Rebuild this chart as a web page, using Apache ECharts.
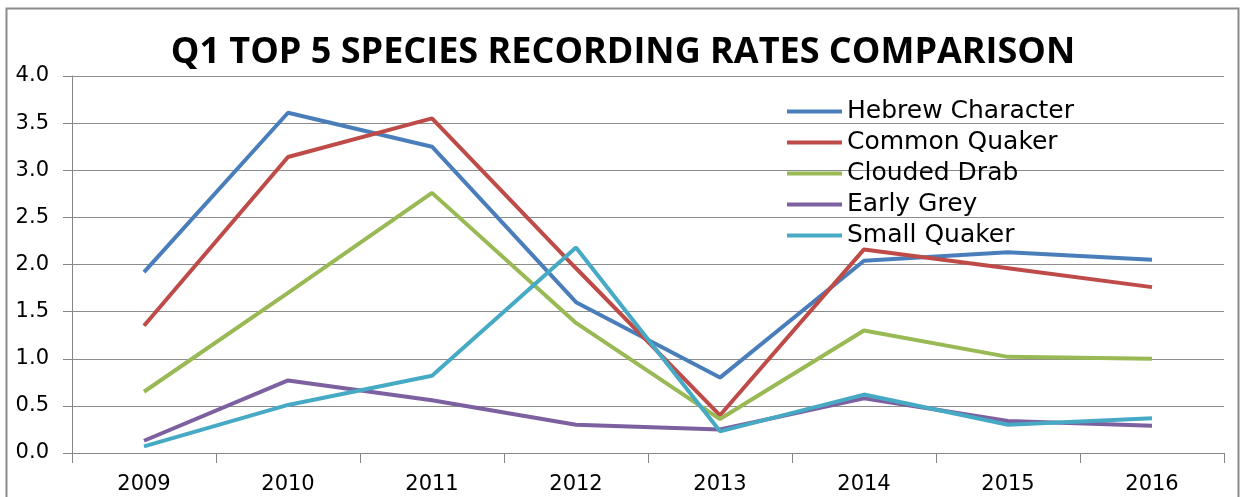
<!DOCTYPE html>
<html>
<head>
<meta charset="utf-8">
<script src="https://cdn.jsdelivr.net/npm/echarts@6/dist/echarts.min.js"></script>
<style>
  html, body { margin: 0; padding: 0; background: #fff; }
  #chart { width: 1246px; height: 497px; }
</style>
</head>
<body>
<div id="chart"></div>
<script>
const years = ["2009", "2010", "2011", "2012", "2013", "2014", "2015", "2016"];
const hebrewCharacter = [1.92, 3.61, 3.25, 1.6, 0.8, 2.04, 2.13, 2.05];
const commonQuaker = [1.35, 3.14, 3.55, 1.96, 0.4, 2.16, 1.96, 1.76];
const cloudedDrab = [0.65, 1.7, 2.76, 1.38, 0.36, 1.3, 1.02, 1.0];
const earlyGrey = [0.13, 0.77, 0.56, 0.3, 0.25, 0.58, 0.34, 0.29];
const smallQuaker = [0.07, 0.51, 0.82, 2.18, 0.23, 0.62, 0.3, 0.37];

const chart = echarts.init(document.getElementById("chart"));

const mkLine = (name, data, color) => ({
  type: "line",
  name: name,
  data: data,
  symbol: "none",
  lineStyle: { width: 4, color: color },
  itemStyle: { color: color },
});

const option = {
  animation: false,
  backgroundColor: "#fff",
  textStyle: { fontFamily: "DejaVu Sans" },
  graphic: [
    {
      type: "rect",
      shape: { x: 6.5, y: 8.5, width: 1232, height: 500 },
      style: { fill: "none", stroke: "#8c8c8c", lineWidth: 2 },
      silent: true,
    },
  ],
  title: {
    text: "Q1 TOP 5 SPECIES RECORDING RATES COMPARISON",
    left: "center",
    top: 30,
    textStyle: { fontSize: 36, fontWeight: "bold", color: "#000", fontFamily: "Open Sans" },
  },
  grid: { left: 72, right: 22, top: 76, bottom: 44 },
  legend: {
    orient: "vertical",
    left: 787,
    top: 99,
    padding: 0,
    icon: "rect",
    itemWidth: 55,
    itemHeight: 4,
    itemGap: 6,
    textStyle: { fontSize: 25, lineHeight: 25, color: "#000", fontFamily: "DejaVu Sans" },
    data: ["Hebrew Character", "Common Quaker", "Clouded Drab", "Early Grey", "Small Quaker"],
  },
  xAxis: {
    type: "category",
    data: years,
    boundaryGap: true,
    axisLine: { lineStyle: { color: "#868686", width: 1 } },
    axisTick: { show: true, length: 10, lineStyle: { color: "#868686" } },
    axisLabel: { color: "#000", fontSize: 21, margin: 21, fontFamily: "DejaVu Sans" },
  },
  yAxis: {
    type: "value",
    min: 0,
    max: 4,
    interval: 0.5,
    axisLine: { show: true, lineStyle: { color: "#868686" } },
    axisTick: { show: true, length: 9, lineStyle: { color: "#868686" } },
    axisLabel: {
      color: "#000",
      fontSize: 21,
      margin: 23,
      padding: [5, 0, 0, 0],
      fontFamily: "DejaVu Sans",
      formatter: (v) => v.toFixed(1),
    },
    splitLine: { lineStyle: { color: "#8c8c8c", width: 1 } },
  },
  series: [
    mkLine("Hebrew Character", hebrewCharacter, "#4a7ebb"),
    mkLine("Common Quaker", commonQuaker, "#be4b48"),
    mkLine("Clouded Drab", cloudedDrab, "#98b954"),
    mkLine("Early Grey", earlyGrey, "#7d60a0"),
    mkLine("Small Quaker", smallQuaker, "#46aac5"),
  ],
};

chart.setOption(option);
</script>
</body>
</html>
